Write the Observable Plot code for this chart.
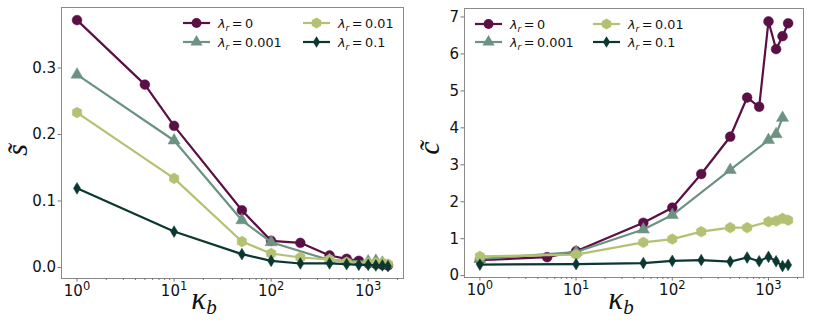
<!DOCTYPE html>
<html><head><meta charset="utf-8">
<script src="https://cdn.jsdelivr.net/npm/d3@7"></script>
<script src="https://cdn.jsdelivr.net/npm/@observablehq/plot@0.6"></script>
<style>
body{margin:0;background:#fff;}
#wrap{position:relative;width:830px;height:320px;display:flex;}
.panel{position:relative;width:415px;height:320px;flex:none}
.panel > svg{display:block;overflow:visible}
</style>
</head><body>
<div id="wrap"><div class="panel" id="p1"></div><div class="panel" id="p2"></div></div>
<script>
// ---- data ----
const lambdaLabels = ["0", "0.001", "0.01", "0.1"];
const kappaL0   = [1, 5, 10, 50, 100, 200, 400, 600, 800, 1000, 1200, 1400, 1600];
const kappaL001 = [1, 10, 50, 100, 400, 1000, 1200, 1400];
const kappaL01  = [1, 10, 50, 100, 200, 400, 600, 1000, 1200, 1400, 1600];
const kappaL1   = [1, 10, 50, 100, 200, 400, 600, 800, 1000, 1200, 1400, 1600];

const sL0   = [0.372, 0.275, 0.213, 0.086, 0.040, 0.037, 0.018, 0.013, 0.010, 0.006, 0.005, 0.004, 0.003];
const sL001 = [0.290, 0.191, 0.071, 0.038, 0.011, 0.009, 0.010, 0.007];
const sL01  = [0.233, 0.134, 0.039, 0.021, 0.015, 0.012, 0.008, 0.007, 0.007, 0.007, 0.005];
const sL1   = [0.119, 0.054, 0.020, 0.010, 0.006, 0.006, 0.005, 0.004, 0.004, 0.003, 0.003, 0.002];

const cL0   = [0.42, 0.50, 0.66, 1.43, 1.84, 2.75, 3.76, 4.82, 4.57, 6.88, 6.13, 6.48, 6.83];
const cL001 = [0.45, 0.64, 1.25, 1.64, 2.86, 3.67, 3.83, 4.27];
const cL01  = [0.52, 0.57, 0.90, 0.99, 1.19, 1.30, 1.30, 1.46, 1.48, 1.55, 1.50];
const cL1   = [0.30, 0.31, 0.34, 0.40, 0.42, 0.38, 0.49, 0.39, 0.51, 0.39, 0.26, 0.29];

const majorTicks = [1, 10, 100, 1000];
const minorTicks = [2,3,4,5,6,7,8,9,20,30,40,50,60,70,80,90,200,300,400,500,600,700,800,900,2000];
const sTicks = [0, 0.1, 0.2, 0.3];
const cTicks = [0, 1, 2, 3, 4, 5, 6, 7];

const colors = ["#5a0f45", "#6c9283", "#b3c172", "#0b3731"];

// ---- marker shapes ----
const circle = d3.symbolCircle;
const triangle = d3.symbolTriangle;
const hexagon = {draw(ctx, size){
  const r = Math.sqrt(2 * size / (3 * Math.sqrt(3)));
  for (let i = 0; i < 6; i++) {
    const a = Math.PI / 2 + i * Math.PI / 3;
    const px = r * Math.cos(a), py = -r * Math.sin(a);
    if (i === 0) ctx.moveTo(px, py); else ctx.lineTo(px, py);
  }
  ctx.closePath();
}};
const thinDiamond = {draw(ctx, size){
  const h = Math.sqrt(size / Math.PI) * 1.15, w = h * 0.6;
  ctx.moveTo(0, -h); ctx.lineTo(w, 0); ctx.lineTo(0, h); ctx.lineTo(-w, 0); ctx.closePath();
}};
const symbols = [circle, triangle, hexagon, thinDiamond];
const radii = [4.9, 4.5, 4.9, 5.1];

const xDomain = [Math.pow(10, -0.16), Math.pow(10, 3.364)];

function makeSeries(ks, vs) { return ks.map((k, i) => ({k, v: vs[i]})); }

function panel(el, opts) {
  const series = [
    makeSeries(kappaL0, opts.vals[0]),
    makeSeries(kappaL001, opts.vals[1]),
    makeSeries(kappaL01, opts.vals[2]),
    makeSeries(kappaL1, opts.vals[3])
  ];
  const marks = [
    Plot.frame({stroke: "#8a8a8a", strokeWidth: 1}),
    Plot.axisX({ticks: minorTicks, tickSize: 2, tickFormat: () => "", label: null, stroke: "#777"}),
    Plot.axisX({ticks: majorTicks, tickSize: 3.5, tickPadding: 3, label: null, stroke: "#777", fill: "#111",
      fontSize: 15, tickFormat: d => "10^" + Math.round(Math.log10(d))}),
    Plot.axisY({ticks: opts.ticks, tickSize: 3.5, tickPadding: 2, label: null, stroke: "#777", fill: "#111",
      fontSize: 15, tickFormat: opts.fmt})
  ];
  series.forEach((d, i) => {
    marks.push(Plot.line(d, {x: "k", y: "v", stroke: colors[i], strokeWidth: 2.2}));
    marks.push(Plot.dot(d, {x: "k", y: "v", fill: colors[i], symbol: symbols[i], r: radii[i], stroke: colors[i], strokeWidth: 0.5}));
  });
  const chart = Plot.plot({
    width: 415, height: 320,
    marginLeft: opts.ml, marginRight: opts.mr, marginTop: opts.mt, marginBottom: opts.mb,
    style: {fontFamily: "DejaVu Sans", fontSize: "15px", background: "transparent", overflow: "visible"},
    x: {type: "log", domain: xDomain},
    y: {domain: opts.yDomain},
    marks
  });
  const svg = d3.select(chart);
  // turn "10^n" into 10 with a raised exponent
  svg.selectAll("text").each(function() {
    const m = /^10\^(\d)$/.exec(this.textContent);
    if (m) {
      const sel = d3.select(this);
      sel.text("10");
      sel.append("tspan").attr("dy", "-0.5em").attr("font-size", "11.5px").text(m[1]);
    }
  });

  // legend (drawn inside the plot's svg)
  const lg = svg.append("g").attr("font-family", "DejaVu Sans").attr("font-size", 12.8)
    .attr("fill", "#111").attr("text-anchor", "start");
  opts.legend.forEach((pos, i) => {
    const g = lg.append("g").attr("transform", `translate(${pos[0]},${pos[1]})`);
    g.append("line").attr("x1", 0).attr("x2", 27).attr("y1", 0).attr("y2", 0)
      .attr("stroke", colors[i]).attr("stroke-width", 2.2);
    g.append("path").attr("transform", "translate(13.5,0)")
      .attr("d", d3.symbol(symbols[i], radii[i] * radii[i] * Math.PI)())
      .attr("fill", colors[i]);
    const t = g.append("text").attr("x", 35).attr("y", 4.5).attr("text-anchor", "start");
    t.append("tspan").attr("font-style", "italic").text("\u03bb");
    t.append("tspan").attr("font-style", "italic").attr("font-size", 9).attr("dy", 3).text("r");
    t.append("tspan").attr("dy", -3).text("\u2009=\u2009" + lambdaLabels[i]);
  });

  // axis titles
  const xt = svg.append("text").attr("x", opts.xl[0]).attr("y", opts.xl[1])
    .attr("text-anchor", "middle").attr("font-family", "Liberation Serif").attr("font-style", "italic")
    .attr("font-size", 31).attr("fill", "#111");
  xt.append("tspan").text("\u03ba");
  xt.append("tspan").attr("font-size", 21).attr("dy", 5).text("b");
  svg.append("text")
    .attr("transform", `translate(${opts.yl[0]},${opts.yl[1]}) rotate(-90)`)
    .attr("text-anchor", "middle").attr("font-family", "Liberation Serif").attr("font-style", "italic")
    .attr("font-size", 30).attr("fill", "#111").text(opts.ylabel);

  el.appendChild(chart);
}

panel(document.getElementById("p1"), {
  vals: [sL0, sL001, sL01, sL1],
  ticks: sTicks, fmt: d3.format(".1f"),
  yDomain: [-0.0166, 0.391],
  ml: 61, mr: 12, mt: 7, mb: 42,
  legend: [[183, 23], [183, 42], [303, 23], [303, 42]],
  xl: [204, 309], yl: [27, 150], ylabel: "s\u0303"
});
panel(document.getElementById("p2"), {
  vals: [cL0, cL001, cL01, cL1],
  ticks: cTicks, fmt: d3.format("d"),
  yDomain: [-0.05, 7.23],
  ml: 49, mr: 27, mt: 8, mb: 43,
  legend: [[60, 24], [60, 42], [178, 24], [178, 42]],
  xl: [206, 309], yl: [24, 148], ylabel: "c\u0303"
});
</script>
</body></html>
